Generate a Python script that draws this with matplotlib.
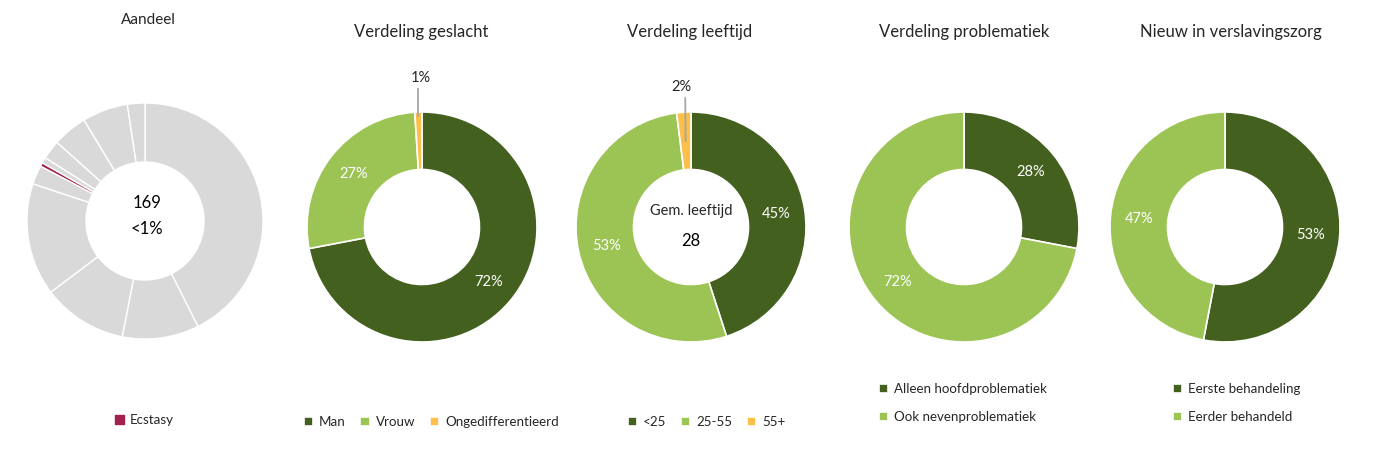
import matplotlib.pyplot as plt
from matplotlib.patches import Patch
import numpy as np

plt.rcParams['font.family'] = ['Lato', 'DejaVu Sans']

W, H = 1388, 449

# data
aandeel_vals = [42.6, 10.5, 11.6, 15.4, 2.6, 0.5, 0.8, 2.6, 4.75, 6.25, 2.4]
aandeel_ecstasy_idx = 5
aandeel_n = '169'
aandeel_pct = '<1%'

geslacht_labels = ['Man', 'Vrouw', 'Ongedifferentieerd']
geslacht_vals = [72, 27, 1]

leeftijd_labels = ['<25', '25-55', '55+']
leeftijd_vals = [45, 53, 2]
gem_leeftijd = 28

probl_labels = ['Alleen hoofdproblematiek', 'Ook nevenproblematiek']
probl_vals = [28, 72]

nieuw_labels = ['Eerste behandeling', 'Eerder behandeld']
nieuw_vals = [53, 47]

DARK = '#44601e'
LIGHT = '#9cc454'
ORANGE = '#fcbf4a'
GREY = '#d9d9d9'
RED = '#a3214e'
TXT = '#262626'

fig = plt.figure(figsize=(W / 100, H / 100), dpi=100)


def place(cx, cy, r):
    ax = fig.add_axes([(cx - r) / W, 1 - (cy + r) / H, 2 * r / W, 2 * r / H])
    ax.axis('off')
    return ax


def donut(ax, vals, colors, lw=1.2):
    wedges, _ = ax.pie(vals, colors=colors, startangle=90, counterclock=False,
                       radius=1, wedgeprops=dict(width=0.5, edgecolor='white', linewidth=lw))
    ax.set_xlim(-1, 1)
    ax.set_ylim(-1, 1)
    return wedges


def inside_labels(ax, wedges, vals, skip=()):
    for i, (w, v) in enumerate(zip(wedges, vals)):
        if i in skip:
            continue
        a = np.deg2rad((w.theta1 + w.theta2) / 2)
        ax.text(0.75 * np.cos(a), 0.75 * np.sin(a), f'{v}%', color='white',
                fontsize=10.5, ha='center', va='center')


def title(x, y, s, size=12):
    fig.text(x / W, 1 - y / H, s, ha='center', va='center', fontsize=size, color=TXT)


def legend(ax, handles, labels, x, y, ncol, spacing=0.5):
    ax.legend(handles, labels, loc='center left', bbox_to_anchor=(x / W, 1 - y / H),
              bbox_transform=fig.transFigure, ncol=ncol, frameon=False, fontsize=9.6,
              handlelength=0.7, handleheight=0.7, handletextpad=0.45,
              columnspacing=1.1, borderpad=0, labelspacing=spacing, labelcolor=TXT)


# Aandeel
ax1 = place(145, 221, 118)
cols1 = [GREY] * len(aandeel_vals)
cols1[aandeel_ecstasy_idx] = RED
w1 = donut(ax1, aandeel_vals, cols1, lw=1.0)
ax1.text(0.02, 0.15, aandeel_n, ha='center', va='center', fontsize=12, color='black')
ax1.text(0.02, -0.07, aandeel_pct, ha='center', va='center', fontsize=12, color='black')
title(148, 20, 'Aandeel', 11)
legend(ax1, [Patch(color=RED)], ['Ecstasy'], 108, 420, 1)

# Verdeling geslacht
ax2 = place(422, 227, 115)
w2 = donut(ax2, geslacht_vals, [DARK, LIGHT, ORANGE])
inside_labels(ax2, w2, geslacht_vals, skip=(2,))
a = np.deg2rad((w2[2].theta1 + w2[2].theta2) / 2)
ax2.plot([np.cos(a) * 0.97, np.cos(a) * 0.97], [np.sin(a) * 0.97, 1.2], color='#a6a6a6',
         lw=1.3, clip_on=False)
ax2.text(-0.01, 1.3, f'{geslacht_vals[2]}%', ha='center', va='center', fontsize=10.5,
         color=TXT, clip_on=False)
title(421, 32, 'Verdeling geslacht')
legend(ax2, w2, geslacht_labels, 297, 422, 3)

# Verdeling leeftijd
ax3 = place(691, 227, 115)
w3 = donut(ax3, leeftijd_vals, [DARK, LIGHT, ORANGE])
inside_labels(ax3, w3, leeftijd_vals, skip=(2,))
a = np.deg2rad((w3[2].theta1 + w3[2].theta2) / 2)
ax3.plot([np.cos(a) * 0.75, -0.05], [np.sin(a) * 0.75, 1.12], color='#a6a6a6', lw=1.3,
         clip_on=False)
ax3.text(-0.08, 1.22, f'{leeftijd_vals[2]}%', ha='center', va='center', fontsize=10.5,
         color=TXT, clip_on=False)
ax3.text(0, 0.14, 'Gem. leeftijd', ha='center', va='center', fontsize=10.5, color=TXT)
ax3.text(0, -0.12, str(gem_leeftijd), ha='center', va='center', fontsize=12, color='black')
title(690, 32, 'Verdeling leeftijd')
legend(ax3, w3, leeftijd_labels, 621, 422, 3)

# Verdeling problematiek
ax4 = place(964, 227, 115)
w4 = donut(ax4, probl_vals, [DARK, LIGHT])
inside_labels(ax4, w4, probl_vals)
title(964, 32, 'Verdeling problematiek')
legend(ax4, w4, probl_labels, 872, 403, 1, spacing=1.2)

# Nieuw in verslavingszorg
ax5 = place(1225, 227, 115)
w5 = donut(ax5, nieuw_vals, [DARK, LIGHT])
inside_labels(ax5, w5, nieuw_vals)
title(1231, 32, 'Nieuw in verslavingszorg')
legend(ax5, w5, nieuw_labels, 1166, 403, 1, spacing=1.2)

fig.savefig('out.png', dpi=100, facecolor='white')
